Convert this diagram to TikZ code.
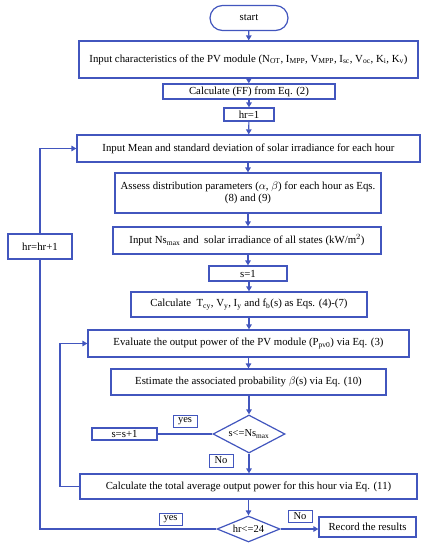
\documentclass[tikz,border=0pt]{standalone}
\usepackage{fontspec}
\setmainfont{Liberation Serif}
\usetikzlibrary{shapes.geometric,arrows.meta}
\definecolor{bl}{RGB}{66,86,190}
\tikzset{
  box/.style={draw=bl, line width=1.2pt, fill=white, inner sep=1pt, align=center, font=\fontsize{10.8}{12.5}\selectfont},
  lbl/.style={draw=bl, line width=1pt, fill=white, inner sep=1pt, font=\fontsize{10.5}{11}\selectfont},
  dia/.style={draw=bl, line width=1.2pt, diamond, aspect=1.9, inner sep=0pt, fill=white, font=\fontsize{10.5}{11}\selectfont},
  con/.style={draw=bl, line width=1.2pt},
  arr/.style={con, -{Triangle[length=5pt,width=5.5pt]}},
}
\begin{document}
\begin{tikzpicture}[x=1pt,y=-1pt]
\useasboundingbox (0,0) rectangle (431,550);
\node[box, rounded corners=12.5pt, minimum width=78pt, minimum height=25pt] (start) at (249,18) {start};
\node[box, minimum width=339pt, minimum height=37pt] (inp) at (248.5,59.5) {Input characteristics of the PV module (N$_{\mathrm{OT}}$, I$_{\mathrm{MPP}}$, V$_{\mathrm{MPP}}$, I$_{\mathrm{sc}}$, V$_{\mathrm{oc}}$, K$_{\mathrm{i}}$, K$_{\mathrm{v}}$)};
\node[box, minimum width=172pt, minimum height=15pt] (ff) at (249,91.5) {Calculate (FF) from Eq. (2)};
\node[box, minimum width=50pt, minimum height=13pt] (hr1) at (249,114.5) {hr=1};
\node[box, minimum width=343pt, minimum height=27pt] (mean) at (248.5,148.5) {Input Mean and standard deviation of solar irradiance for each hour};
\node[box, minimum width=266pt, minimum height=40pt] (assess) at (248,193) {Assess distribution parameters ($\alpha$, $\beta$) for each hour as Eqs.\\(8) and (9)};
\node[box, minimum width=268pt, minimum height=27pt] (ns) at (247,240.5) {Input Ns$_{\mathrm{max}}$ and\ \ solar irradiance of all states (kW/m$^2$)};
\node[box, minimum width=78pt, minimum height=15pt] (s1) at (248,273.5) {s=1};
\node[box, minimum width=236pt, minimum height=25pt] (calc) at (249,304.5) {Calculate\ \ T$_{\mathrm{cy}}$, V$_{\mathrm{y}}$, I$_{\mathrm{y}}$ and f$_{\mathrm{b}}$(s) as Eqs. (4)-(7)};
\node[box, minimum width=321pt, minimum height=27pt] (eval) at (248.5,343.5) {Evaluate the output power of the PV module (P$_{\mathrm{pv0}}$) via Eq. (3)};
\node[box, minimum width=275pt, minimum height=26pt] (est) at (248.5,382) {Estimate the associated probability $\beta$(s) via Eq. (10)};
\node[dia, minimum width=72pt, minimum height=38pt] (d1) at (249,434) {s<=Ns$_{\mathrm{max}}$};
\node[box, minimum width=65pt, minimum height=12pt] (ss) at (124.5,434) {s=s+1};
\node[lbl, minimum width=24pt, minimum height=12pt] (yes1) at (185,421) {yes};
\node[lbl, minimum width=24pt, minimum height=13pt] (no1) at (221,460.5) {No};
\node[box, minimum width=337pt, minimum height=25pt] (tot) at (248.5,486.5) {Calculate the total average output power for this hour via Eq. (11)};
\node[dia, minimum width=63pt, minimum height=26pt] (d2) at (248.5,529) {hr<=24};
\node[lbl, minimum width=23pt, minimum height=12pt] (yes2) at (170.5,519) {yes};
\node[lbl, minimum width=24pt, minimum height=12pt] (no2) at (300,516) {No};
\node[box, minimum width=97pt, minimum height=20pt] (rec) at (367.5,527) {Record the results};
\node[box, minimum width=64pt, minimum height=25pt] (hrp) at (40,246.5) {hr=hr+1};
% main flow
\draw[arr] (start) -- (inp);
\draw[arr] (inp) -- (ff);
\draw[arr] (ff) -- (hr1);
\draw[arr] (hr1) -- (mean);
\draw[arr] (mean.south -| assess.north) -- (assess);
\draw[arr] (assess) -- (ns.north -| assess.south);
\draw[arr] (ns.south -| s1.north) -- (s1);
\draw[arr] (s1.south -| calc.north) -- (calc);
\draw[arr] (calc) -- (eval.north -| calc.south);
\draw[arr] (eval.south -| est.north) -- (est);
\draw[arr] (est.south -| d1.north) -- (d1);
\draw[arr] (d1) -- (tot.north -| d1.south);
\draw[arr] (tot.south -| d2.north) -- (d2);
\draw[arr] (d2.east) -- (d2.east -| rec.west);
\draw[con] (d1.west) -- (d1.west -| ss.east);
% inner loop
\coordinate (c1) at (60,486.5);
\coordinate (c2) at (60,343.5);
\draw[arr] (tot.west) -- (c1) -- (c2) -- (eval.west);
% outer loop
\coordinate (o1) at (40,529);
\coordinate (o2) at (40,148.5);
\draw[con] (d2.west) -- (o1) -- (hrp.south);
\draw[arr] (hrp.north) -- (o2) -- (mean.west);
\end{tikzpicture}
\end{document}
